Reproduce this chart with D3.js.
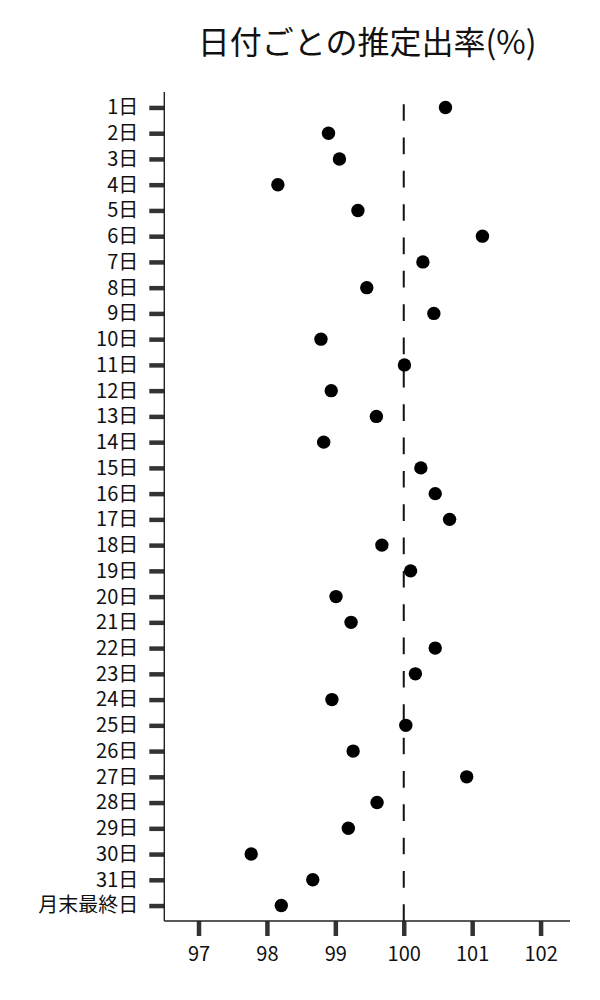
<!DOCTYPE html>
<html>
<head>
<meta charset="utf-8">
<script src="https://cdn.jsdelivr.net/npm/d3@7"></script>
<style>
  html, body { margin: 0; padding: 0; background: #ffffff; }
  svg { display: block; }
  text { font-family: "Noto Sans CJK JP", "Noto Sans", sans-serif; }
</style>
</head>
<body>
<div id="chart"></div>
<script>
const titleText = "日付ごとの推定出率(%)";
const categories = ["1日","2日","3日","4日","5日","6日","7日","8日","9日","10日",
  "11日","12日","13日","14日","15日","16日","17日","18日","19日","20日",
  "21日","22日","23日","24日","25日","26日","27日","28日","29日","30日","31日","月末最終日"];
const values = [100.61, 98.90, 99.06, 98.16, 99.33, 101.15, 100.28, 99.46, 100.44, 98.79,
  100.01, 98.94, 99.60, 98.83, 100.25, 100.46, 100.67, 99.68, 100.10, 99.01,
  99.23, 100.46, 100.17, 98.95, 100.03, 99.26, 100.92, 99.61, 99.19, 97.77, 98.67, 98.21];
const xTicks = [97, 98, 99, 100, 101, 102];
const refValue = 100;
const xDomain = [96.5, 102.43];

const W = 600, H = 1000;
const plot = { left: 164.3, right: 570, top: 92, bottom: 921 };

const svg = d3.select("#chart").append("svg")
  .attr("width", W).attr("height", H);

const x = d3.scaleLinear().domain(xDomain).range([plot.left, plot.right]);
const y = d3.scalePoint().domain(categories).range([plot.top, plot.bottom]).padding(0.6);

// title
svg.append("text")
  .attr("x", (plot.left + plot.right) / 2)
  .attr("y", 54)
  .attr("text-anchor", "middle")
  .attr("font-size", 32)
  .attr("fill", "#111")
  .text(titleText);

// reference dashed line (dashes start from the bottom)
svg.append("line")
  .attr("x1", x(refValue)).attr("x2", x(refValue))
  .attr("y1", plot.bottom).attr("y2", plot.top)
  .attr("stroke", "#111")
  .attr("stroke-width", 2)
  .attr("stroke-dasharray", "16.67,16.67");

// y axis
const yAxis = d3.axisLeft(y).tickSize(15).tickPadding(11);
const gy = svg.append("g")
  .attr("transform", `translate(${plot.left},0)`)
  .call(yAxis);
gy.select(".domain").remove();
gy.selectAll(".tick line").attr("stroke", "#333").attr("stroke-width", 4.5);
gy.selectAll(".tick text").attr("font-size", 20).attr("fill", "#111")
  .style("font-family", '"Noto Sans CJK JP", sans-serif');

// x axis
const xAxis = d3.axisBottom(x).tickValues(xTicks).tickSize(15).tickPadding(11)
  .tickFormat(d3.format("d"));
const gx = svg.append("g")
  .attr("transform", `translate(0,${plot.bottom})`)
  .call(xAxis);
gx.select(".domain").remove();
gx.selectAll(".tick line").attr("stroke", "#333").attr("stroke-width", 4.5);
gx.selectAll(".tick text").attr("font-size", 20).attr("fill", "#111")
  .style("font-family", '"Noto Sans CJK JP", sans-serif');

// axis lines
svg.append("line")
  .attr("x1", plot.left).attr("x2", plot.left)
  .attr("y1", y.range()[0]).attr("y2", plot.bottom)
  .attr("stroke", "#222").attr("stroke-width", 1.4);
svg.append("line")
  .attr("x1", plot.left).attr("x2", plot.right)
  .attr("y1", plot.bottom).attr("y2", plot.bottom)
  .attr("stroke", "#222").attr("stroke-width", 1.4);

// points
svg.append("g").selectAll("circle")
  .data(categories.map((c, i) => ({ c, v: values[i] })))
  .join("circle")
  .attr("cx", d => x(d.v))
  .attr("cy", d => y(d.c))
  .attr("r", 6.7)
  .attr("fill", "#000");
</script>
</body>
</html>
